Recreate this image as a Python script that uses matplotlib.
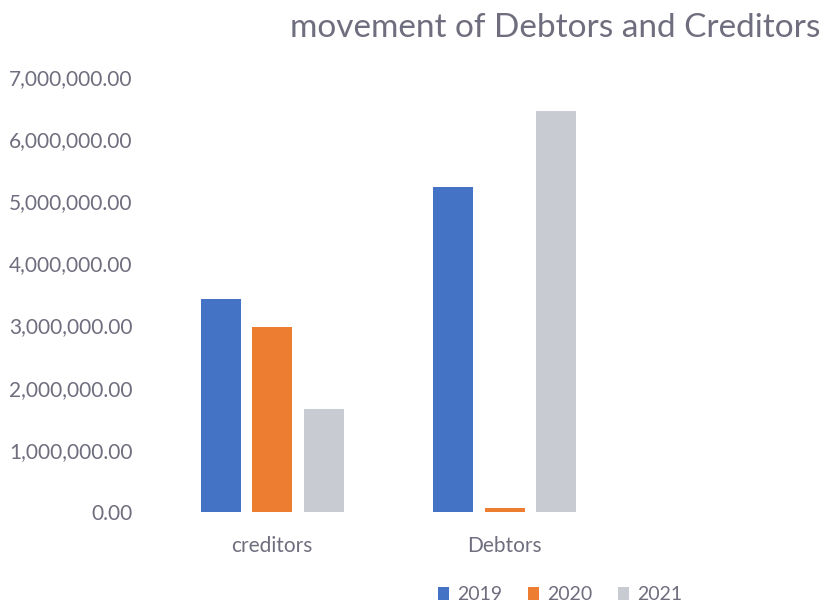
import numpy as np
import matplotlib.pyplot as plt
from matplotlib.patches import Patch

# Balances per category and year
categories = ["creditors", "Debtors"]
years = ["2019", "2020", "2021"]
values_2019 = [3430000, 5230000]
values_2020 = [2980000, 70000]
values_2021 = [1660000, 6460000]

colors = ["#4472C4", "#ED7D31", "#C9CBD3"]
text_color = "#6E6E7E"
plt.rcParams['font.family'] = ['Lato', 'DejaVu Sans']

W, H = 826, 607
fig = plt.figure(figsize=(W / 100, H / 100), dpi=100)
ax = fig.add_axes([156 / W, 1 - 512 / H, (621 - 156) / W, (512 - 77) / H])

x = np.arange(len(categories))
bar_w = 0.172
step = 0.221
for i, (vals, c) in enumerate(zip([values_2019, values_2020, values_2021], colors)):
    ax.bar(x + (i - 1) * step, vals, width=bar_w, color=c)

ax.set_xlim(-0.5, 1.5)
ax.set_ylim(0, 7000000)
ax.set_yticks(np.arange(0, 7000001, 1000000))
ax.set_yticklabels([f"{v:,.2f}" for v in np.arange(0, 7000001, 1000000)])
ax.set_xticks(x)
ax.set_xticklabels(categories)
ax.tick_params(axis='y', length=0, pad=17, labelsize=15, labelcolor=text_color)
ax.tick_params(axis='x', length=0, pad=17, labelsize=15, labelcolor=text_color)
for s in ax.spines.values():
    s.set_visible(False)

fig.text(820 / W, 1 - 28 / H, "movement of Debtors and Creditors",
         ha='right', va='center', fontsize=24, color=text_color)

handles = [Patch(facecolor=c, label=y) for c, y in zip(colors, years)]
fig.legend(handles=handles, loc='center', bbox_to_anchor=(560 / W, 1 - 595 / H),
           ncol=3, frameon=False, fontsize=14, labelcolor=text_color,
           handlelength=0.6, handleheight=0.6, handletextpad=0.4, columnspacing=1.3)

fig.savefig("out.png", dpi=100)
